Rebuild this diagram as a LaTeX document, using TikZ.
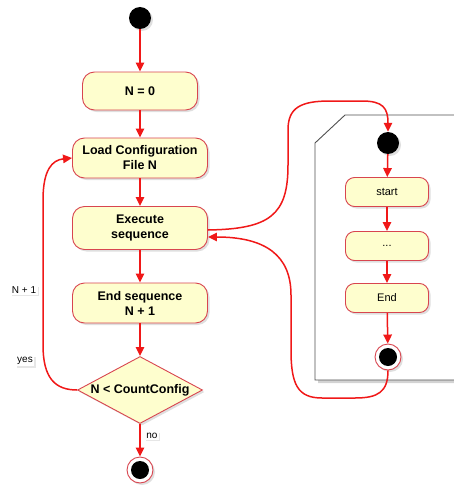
\documentclass[tikz,border=0pt]{standalone}
\usepackage{fontspec}
\setmainfont{Liberation Sans}
\usepackage{tikz}
\usetikzlibrary{shapes.geometric, arrows.meta, shadows, positioning}

\definecolor{actfill}{HTML}{FEFECE}
\definecolor{actline}{HTML}{D8454F}
\definecolor{flowred}{HTML}{F01818}
\definecolor{framegray}{HTML}{505050}

\begin{document}
\begin{tikzpicture}
[x=1pt, y=-1pt,
shade/.style={drop shadow={opacity=0.25, shadow xshift=2pt, shadow yshift=-2pt}},
act/.style={draw=actline, fill=actfill, line width=0.9pt, rounded corners=12pt,
	minimum width=135pt, minimum height=40pt, align=center, inner sep=2pt,
	font=\fontsize{12.5}{15}\selectfont\bfseries, shade},
subact/.style={draw=actline, fill=actfill, line width=0.9pt, rounded corners=9pt,
	minimum width=83pt, minimum height=29pt, font=\fontsize{11}{13}\selectfont, shade},
cond/.style={diamond, draw=actline, fill=actfill, line width=0.9pt, aspect=1.87,
	minimum width=125pt, minimum height=67pt, inner sep=0pt,
	font=\fontsize{12.5}{15}\selectfont\bfseries, shade},
startdot/.style={circle, fill=black, minimum size=22pt, inner sep=0pt, shade},
enddot/.style={circle, draw=actline, fill=white, line width=0.9pt, minimum size=26pt,
	inner sep=0pt, shade, path picture={\fill[black] (path picture bounding box.center) circle (9pt);}},
flow/.style={draw=flowred, line width=1.5pt, -{Triangle[length=9pt, width=8.5pt]}},
guard/.style={fill=white, font=\fontsize{10}{12}\selectfont, inner sep=1.5pt,
	drop shadow={opacity=0.2, shadow xshift=1.5pt, shadow yshift=-1.5pt}}]
\useasboundingbox (0,0) rectangle (453,487);

\node[startdot] (init) at (140,18) {};
\node[act, minimum width=115pt, minimum height=38pt] (nzero) at (140,91) {N = 0};
\node[act] (load) at (140,158) {Load Configuration\\File N};
\node[act, minimum height=43pt] (exec) at (140,228) {Execute\\sequence};
\node[act] (endseq) at (140,303) {End sequence\\N + 1};
\node[cond] (check) at (140,390) {N < CountConfig};
\node[enddot] (final) at (140,470) {};

\fill[framegray, opacity=0.25] (348,118) -- (460,118) -- (460,383) -- (318,383) -- (318,146) -- cycle;
\draw[framegray, fill=white, line width=0.9pt] (345,115) -- (460,115) -- (460,380) -- (315,380) -- (315,143) -- cycle;

\node[startdot] (substart) at (388,143) {};
\node[subact] (first) at (387,192) {start};
\node[subact] (middle) at (387,246) {...};
\node[subact] (last) at (387,298) {End};
\node[enddot] (subend) at (388,357) {};

\draw[flow] (init) -- (nzero);
\draw[flow] (nzero) -- (load);
\draw[flow] (load) -- (exec);
\draw[flow] (exec) -- (endseq);
\draw[flow] (endseq) -- (check);
\draw[flow] (check) -- node[guard, right=4pt, pos=0.35] (nolabel) {no} (final);
\draw[flow] (check.west) .. controls (55,390) and (43,378) .. (43,345) -- (43,200)
	.. controls (43,170) and (52,160) .. (load.west);
\node[guard] (looplabel) at (24,290) {N + 1};
\node[guard] (yeslabel) at (25,361) {yes};

\draw[flow] ([yshift=-2pt]exec.east) .. controls (270,229) and (288,215) .. (288,165) -- (288,130)
	.. controls (288,108) and (300,101) .. (330,101) -- (362,101)
	.. controls (383,101) and (388,108) .. (substart.north);
\draw[flow] (substart) -- (first);
\draw[flow] (first) -- (middle);
\draw[flow] (middle) -- (last);
\draw[flow] (last) -- (subend);
\draw[flow] (subend.south) .. controls (388,392) and (378,398) .. (355,398) -- (322,398)
	.. controls (298,398) and (291,385) .. (291,350) -- (291,295)
	.. controls (291,255) and (265,237) .. ([yshift=-9pt]exec.east);
\end{tikzpicture}
\end{document}
